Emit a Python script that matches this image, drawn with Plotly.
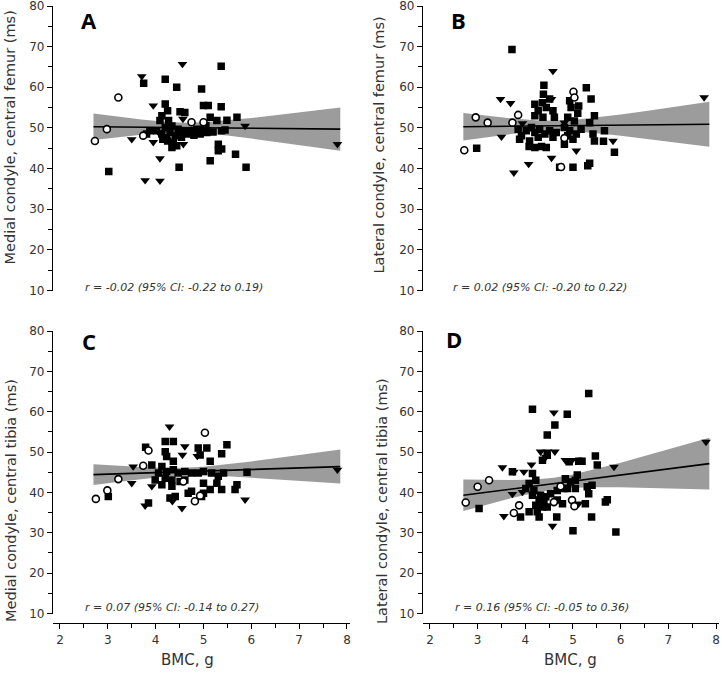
import plotly.graph_objects as go

W, H = 722, 673

# ---------------- data ----------------
x_ticks = [2, 3, 4, 5, 6, 7, 8]
y_ticks = [10, 20, 30, 40, 50, 60, 70, 80]

panel_letters = ["A", "B", "C", "D"]
y_titles = ["Medial condyle, central femur (ms)", "Lateral condyle, central femur (ms)",
            "Medial condyle, central tibia (ms)", "Lateral condyle, central tibia (ms)"]
r_texts = ["r = -0.02 (95% CI: -0.22 to 0.19)", "r = 0.02 (95% CI: -0.20 to 0.22)",
           "r = 0.07 (95% CI: -0.14 to 0.27)", "r = 0.16 (95% CI: -0.05 to 0.36)"]
x_title = "BMC, g"

# Panel A
A_sq_x = [3.75, 5.37, 4.20, 4.44, 4.96, 5.00, 5.10, 5.37, 4.20, 4.25, 4.51, 4.61, 4.13, 4.09, 5.70,
          5.49, 5.14, 5.28, 3.81, 3.88, 4.20, 4.34, 4.30, 4.23, 4.41, 4.37, 4.47, 4.61, 4.75, 4.86,
          4.93, 4.68, 4.54, 5.00, 5.07, 4.34, 4.44, 4.13, 4.02, 4.27, 5.45, 5.38, 5.31, 5.38, 5.31,
          5.67, 5.14, 5.89, 4.49, 3.02, 4.25, 4.55, 4.80, 4.15, 5.20, 5.05]
A_sq_y = [61.0, 65.2, 62.0, 60.0, 59.6, 55.5, 55.5, 55.2, 55.9, 54.2, 54.0, 53.8, 53.0, 51.8, 52.6,
          51.9, 52.6, 51.8, 48.5, 49.3, 50.1, 50.5, 48.9, 47.6, 48.1, 46.4, 49.7, 49.3, 49.3, 49.7,
          48.5, 48.5, 47.7, 49.7, 48.9, 45.2, 45.6, 48.5, 49.3, 51.8, 49.5, 49.3, 46.0, 44.8, 44.4,
          43.5, 41.9, 40.3, 40.3, 39.3, 46.8, 49.0, 48.2, 47.2, 49.0, 50.6]
A_tri_x = [3.71, 4.56, 3.95, 3.50, 3.95, 4.09, 3.78, 4.09, 4.57, 5.87, 7.80, 4.58, 4.09]
A_tri_y = [62.7, 65.7, 55.5, 47.2, 46.5, 42.5, 37.1, 37.0, 52.2, 50.5, 46.0, 46.0, 48.5]
A_circ_x = [3.22, 2.98, 2.73, 3.74, 4.75, 5.00]
A_circ_y = [57.5, 49.7, 46.8, 48.1, 51.4, 51.4]

# Panel B
B_sq_x = [3.72, 4.39, 4.38, 4.36, 4.20, 4.27, 4.44, 4.58, 4.20, 4.37, 4.61, 4.51, 5.28, 5.38, 4.93,
          4.96, 5.12, 5.10, 4.89, 5.03, 5.45, 5.35, 5.66, 5.42, 5.45, 5.64, 5.87, 2.98, 4.82, 4.72,
          5.00, 5.31, 5.35, 4.08, 4.20, 4.34, 4.44, 3.85, 3.92, 4.02, 4.13, 4.20, 4.30, 4.41, 4.51,
          4.65, 3.88, 4.27, 4.82, 4.93, 5.07, 5.17, 4.89, 5.00, 4.09, 4.58]
B_sq_y = [69.3, 60.5, 58.3, 56.2, 55.8, 54.2, 55.0, 54.2, 53.0, 52.6, 52.6, 57.1, 59.9, 57.1, 56.7,
          55.0, 55.4, 53.6, 52.6, 51.7, 53.0, 51.3, 49.3, 48.5, 46.8, 46.7, 44.0, 45.0, 46.0, 40.3,
          40.3, 40.7, 41.3, 45.4, 45.2, 45.4, 45.2, 49.7, 48.1, 49.3, 50.1, 48.9, 49.7, 48.5, 49.3,
          48.9, 47.2, 47.7, 50.1, 49.3, 48.5, 49.7, 48.1, 47.2, 46.8, 47.7]
B_tri_x = [4.58, 3.48, 3.69, 3.50, 3.94, 4.55, 4.55, 4.07, 3.76, 5.07, 5.84, 7.75, 4.82]
B_tri_y = [64.0, 57.1, 56.1, 47.8, 51.1, 57.1, 42.6, 41.1, 39.0, 44.4, 46.8, 57.5, 51.3]
B_circ_x = [2.72, 2.96, 3.21, 3.85, 3.73, 5.01, 5.03, 4.82, 4.75]
B_circ_y = [44.5, 52.6, 51.3, 53.2, 51.3, 58.9, 57.5, 47.5, 40.4]

# Panel C
C_sq_x = [3.79, 4.20, 4.37, 4.20, 4.23, 4.89, 5.07, 5.49, 5.38, 4.93, 5.14, 4.37, 3.92, 4.13, 4.06,
          4.23, 4.37, 4.47, 4.61, 4.75, 4.20, 4.34, 4.51, 4.61, 4.13, 4.34, 3.99, 4.89, 5.00, 5.17,
          5.31, 5.42, 5.91, 5.00, 5.28, 5.14, 5.38, 5.70, 5.66, 3.01, 3.85, 4.30, 4.41, 4.68, 4.75,
          5.00, 4.96]
C_sq_y = [51.2, 52.6, 52.6, 50.1, 48.9, 51.0, 51.0, 51.8, 49.6, 49.3, 47.7, 47.7, 46.8, 46.4, 44.8,
          45.2, 45.6, 44.8, 45.2, 44.8, 43.5, 43.1, 42.7, 43.1, 41.9, 41.5, 43.1, 44.8, 45.2, 44.8,
          44.0, 44.8, 45.0, 42.3, 42.3, 40.7, 40.7, 41.9, 40.7, 39.0, 37.4, 38.6, 39.0, 39.8, 40.3,
          39.8, 39.0]
C_tri_x = [4.29, 4.61, 4.56, 3.53, 3.50, 3.92, 3.78, 4.35, 4.55, 5.87, 7.80, 4.87]
C_tri_y = [56.3, 51.4, 49.3, 46.4, 42.3, 41.5, 36.7, 37.8, 36.1, 38.2, 45.6, 49.0]
C_circ_x = [2.75, 2.99, 3.22, 3.85, 3.74, 4.82, 4.93, 4.58, 5.03]
C_circ_y = [38.4, 40.5, 43.3, 50.4, 46.6, 37.8, 39.2, 42.7, 54.8]

# Panel D
D_sq_x = [5.33, 4.15, 4.88, 4.62, 4.46, 5.47, 5.51, 5.19, 5.12, 4.92, 4.36, 4.46, 3.73, 4.15, 4.22,
          4.08, 4.84, 4.95, 5.05, 5.09, 4.88, 5.05, 5.30, 5.40, 5.33, 4.01, 4.18, 4.32, 4.29, 4.39,
          4.22, 4.36, 4.46, 4.15, 4.25, 4.08, 4.43, 4.53, 4.67, 4.81, 4.67, 4.78, 5.26, 3.03, 3.90,
          4.29, 4.66, 5.39, 5.68, 5.72, 5.00, 5.90]
D_sq_y = [64.5, 60.6, 59.4, 56.7, 54.2, 49.0, 46.8, 47.7, 47.7, 47.6, 48.0, 49.2, 45.1, 44.7, 43.0,
          42.2, 43.4, 42.6, 43.0, 44.3, 41.0, 41.0, 41.4, 41.8, 39.7, 41.0, 40.5, 39.3, 38.1, 37.6,
          36.8, 36.4, 36.4, 39.3, 35.2, 35.2, 38.9, 39.7, 40.5, 41.0, 38.1, 37.2, 37.2, 36.0, 33.9,
          33.9, 33.9, 33.9, 37.6, 38.2, 30.5, 30.2]
D_tri_x = [4.60, 4.32, 4.46, 4.62, 4.43, 4.84, 4.98, 3.52, 3.76, 3.97, 4.13, 5.86, 7.79, 3.73, 3.94,
           3.55, 4.57, 5.12]
D_tri_y = [59.8, 50.1, 50.1, 50.1, 48.8, 48.0, 48.0, 46.2, 45.1, 45.1, 46.9, 46.3, 52.5, 39.6, 40.1,
           34.1, 31.7, 37.2]
D_circ_x = [2.75, 3.00, 3.24, 3.87, 3.76, 4.98, 5.03, 4.60, 4.74]
D_circ_y = [37.5, 41.4, 43.0, 36.8, 34.9, 38.1, 36.6, 37.6, 41.5]

# regression lines and 95% CI bands
line_x = [2.7, 7.86]
A_line_y = [50.3, 49.7]
B_line_y = [50.3, 50.9]
C_line_y = [44.4, 46.4]
D_line_y = [39.3, 47.14]

band_x = [2.7, 3.2, 3.7, 4.2, 4.6, 5.0, 5.5, 6.0, 6.5, 7.0, 7.5, 7.86]
A_band_up = [53.55, 52.77, 52.05, 51.49, 51.28, 51.39, 51.85, 52.45, 53.11, 53.80, 54.50, 55.02]
A_band_lo = [47.05, 47.71, 48.31, 48.77, 48.88, 48.67, 48.11, 47.39, 46.61, 45.80, 44.98, 44.38]
B_band_up = [53.68, 52.99, 52.36, 51.88, 51.77, 51.98, 52.56, 53.31, 54.12, 54.96, 55.82, 56.44]
B_band_lo = [46.92, 47.73, 48.48, 49.06, 49.27, 49.16, 48.68, 48.05, 47.36, 46.64, 45.90, 45.36]
C_band_up = [46.97, 46.60, 46.27, 46.06, 46.09, 46.37, 46.97, 47.69, 48.45, 49.24, 50.04, 50.62]
C_band_lo = [41.83, 42.60, 43.31, 43.92, 44.19, 44.23, 44.01, 43.69, 43.31, 42.92, 42.50, 42.20]
D_band_up = [43.22, 43.11, 43.07, 43.22, 43.64, 44.44, 45.81, 47.37, 49.00, 50.67, 52.35, 53.56]
D_band_lo = [35.38, 37.01, 38.57, 39.94, 40.74, 41.16, 41.31, 41.27, 41.16, 41.01, 40.85, 40.72]

panels = [
    (A_sq_x, A_sq_y, A_tri_x, A_tri_y, A_circ_x, A_circ_y, A_line_y, A_band_up, A_band_lo),
    (B_sq_x, B_sq_y, B_tri_x, B_tri_y, B_circ_x, B_circ_y, B_line_y, B_band_up, B_band_lo),
    (C_sq_x, C_sq_y, C_tri_x, C_tri_y, C_circ_x, C_circ_y, C_line_y, C_band_up, C_band_lo),
    (D_sq_x, D_sq_y, D_tri_x, D_tri_y, D_circ_x, D_circ_y, D_line_y, D_band_up, D_band_lo),
]

# ---------------- layout geometry (pixels) ----------------
x_range = [1.854, 8.063]
y_range = [10, 80]
x_dom_px = [(53, 350), (423, 719), (53, 350), (423, 719)]
y_dom_px = [(6, 290.5), (6, 290.5), (331, 613.5), (331, 613.5)]  # (top y of 80, y of 10)
xaxis_line_px = 623

FONT = "DejaVu Sans"
TICK_COL = "#333333"

fig = go.Figure()

for i, (sx, sy, tx, ty, cx, cy, ly, bu, bl) in enumerate(panels):
    xa = "x" if i == 0 else f"x{i+1}"
    ya = "y" if i == 0 else f"y{i+1}"
    fig.add_trace(go.Scatter(x=band_x + band_x[::-1], y=bu + bl[::-1], fill="toself",
                             fillcolor="#9c9c9c", line=dict(width=0), mode="lines",
                             hoverinfo="skip", showlegend=False, xaxis=xa, yaxis=ya))
    fig.add_trace(go.Scatter(x=line_x, y=ly, mode="lines", line=dict(color="black", width=1.6),
                             showlegend=False, xaxis=xa, yaxis=ya))
    fig.add_trace(go.Scatter(x=sx, y=sy, mode="markers",
                             marker=dict(symbol="square", size=7.5, color="black"),
                             showlegend=False, xaxis=xa, yaxis=ya))
    fig.add_trace(go.Scatter(x=tx, y=ty, mode="markers",
                             marker=dict(symbol="triangle-down", size=8.5, color="black"),
                             showlegend=False, xaxis=xa, yaxis=ya))
    fig.add_trace(go.Scatter(x=cx, y=cy, mode="markers",
                             marker=dict(symbol="circle", size=7, color="white",
                                         line=dict(color="black", width=1.6)),
                             showlegend=False, xaxis=xa, yaxis=ya))

layout = dict(width=W, height=H, margin=dict(l=0, r=0, t=0, b=0, autoexpand=False),
              paper_bgcolor="white", plot_bgcolor="white", showlegend=False,
              font=dict(family=FONT, color=TICK_COL))

annotations = []
for i in range(4):
    xk = "xaxis" if i == 0 else f"xaxis{i+1}"
    yk = "yaxis" if i == 0 else f"yaxis{i+1}"
    xa = "x" if i == 0 else f"x{i+1}"
    ya = "y" if i == 0 else f"y{i+1}"
    x0, x1 = x_dom_px[i]
    yt, yb = y_dom_px[i]
    bottom = i >= 2
    xaxis = dict(domain=[x0 / W, x1 / W], range=x_range, anchor=ya, automargin=False,
                 tickvals=x_ticks, showgrid=False, zeroline=False)
    if bottom:
        xaxis.update(anchor="free", position=(H - xaxis_line_px) / H, showline=True,
                     linecolor="black", linewidth=1.3, ticks="outside", ticklen=5,
                     tickwidth=1.2, tickcolor="black", ticklabeloverflow="allow",
                     tickfont=dict(family=FONT, size=12, color=TICK_COL),
                     minor=dict(dtick=0.5, tick0=2, ticks="outside", ticklen=4,
                                tickwidth=1.2, tickcolor="black"))
    else:
        xaxis.update(visible=False)
    layout[xk] = xaxis
    layout[yk] = dict(domain=[(H - yb) / H, (H - yt) / H], range=y_range, anchor=xa,
                      automargin=False, ticklabeloverflow="allow",
                      tickvals=y_ticks, showgrid=False, zeroline=False, showline=True,
                      linecolor="black", linewidth=1.3, ticks="outside", ticklen=5,
                      tickwidth=1.2, tickcolor="black",
                      tickfont=dict(family=FONT, size=12, color=TICK_COL),
                      minor=dict(dtick=5, tick0=10, ticks="outside", ticklen=4,
                                 tickwidth=1.2, tickcolor="black"))

# panel letters, y titles, r texts, x titles (pixel positions)
letter_pos = [(89, 20), (458.5, 20), (89, 341), (453.5, 339)]
ytitle_pos = [(9.5, 138), (378.5, 145), (11, 501), (382, 501)]
rtext_pos = [(83, 287), (451, 287), (83, 607), (453, 607)]
xtitle_pos = [(187, 660), (570, 660)]

for i in range(4):
    lx, ly_ = letter_pos[i]
    annotations.append(dict(text=f"<b>{panel_letters[i]}</b>", x=lx / W, y=(H - ly_) / H,
                            xref="paper", yref="paper", showarrow=False, xanchor="center",
                            yanchor="middle", font=dict(family="Open Sans", size=22, color="black")))
    tx_, ty_ = ytitle_pos[i]
    annotations.append(dict(text=y_titles[i], x=tx_ / W, y=(H - ty_) / H, xref="paper",
                            yref="paper", showarrow=False, textangle=-90, xanchor="center",
                            yanchor="middle", font=dict(family=FONT, size=14.5, color=TICK_COL)))
    rx, ry = rtext_pos[i]
    annotations.append(dict(text=f"<i>{r_texts[i]}</i>", x=rx / W, y=(H - ry) / H, xref="paper",
                            yref="paper", showarrow=False, xanchor="left", yanchor="middle",
                            font=dict(family=FONT, size=11, color=TICK_COL)))
for (px, py) in xtitle_pos:
    annotations.append(dict(text=x_title, x=px / W, y=(H - py) / H, xref="paper", yref="paper",
                            showarrow=False, xanchor="center", yanchor="middle",
                            font=dict(family=FONT, size=15, color=TICK_COL)))

layout["annotations"] = annotations
fig.update_layout(**layout)

# the page's default 8px body margin would shift the figure; remove it
fig.write_html("out.html", config={"displayModeBar": False},
               post_script="document.body.style.margin='0';document.body.style.overflow='hidden';")
